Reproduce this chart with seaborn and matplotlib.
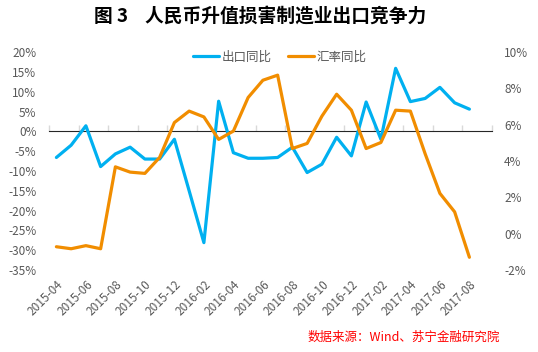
import numpy as np
import pandas as pd
import matplotlib
matplotlib.use("Agg")
import matplotlib.pyplot as plt
import seaborn as sns

#------------ data -----------
months = ["2015-04", "2015-05", "2015-06", "2015-07", "2015-08", "2015-09", "2015-10",
          "2015-11", "2015-12", "2016-01", "2016-02", "2016-03", "2016-04", "2016-05",
          "2016-06", "2016-07", "2016-08", "2016-09", "2016-10", "2016-11", "2016-12",
          "2017-01", "2017-02", "2017-03", "2017-04", "2017-05", "2017-06", "2017-07",
          "2017-08", "2017-09"]
export_yoy = [-6.6, -3.5, 1.4, -8.9, -5.7, -4.0, -7.0, -7.0, -2.0, -15.0, -28.1, 7.6,
              -5.4, -6.8, -6.8, -6.6, -4.0, -10.4, -8.3, -1.5, -6.2, 7.4, -2.0, 15.9,
              7.5, 8.3, 11.1, 7.2, 5.6]
fx_yoy = [-0.72, -0.83, -0.66, -0.83, 3.68, 3.39, 3.32, 4.2, 6.12, 6.75, 6.43, 5.19,
          5.65, 7.5, 8.45, 8.73, 4.69, 4.97, 6.47, 7.68, 6.8, 4.69, 5.02, 6.8, 6.75,
          4.4, 2.22, 1.2, -1.3]

left_ticks = [20, 15, 10, 5, 0, -5, -10, -15, -20, -25, -30, -35]
right_ticks = [10, 8, 6, 4, 2, 0, -2]

df = pd.DataFrame({"x": np.arange(len(export_yoy)),
                   "出口同比": export_yoy, "汇率同比": fx_yoy})

#------------ style -----------
sns.set_style("white")
plt.rcParams["font.family"] = ["Noto Sans CJK SC", "DejaVu Sans"]
gray = "#595959"
blue = "#00b0f0"
orange = "#f18d00"

fig = plt.figure(figsize=(5.38, 3.52), dpi=100)
ax = fig.add_axes([0.0911, 0.233, 0.8225, 0.619])
ax2 = ax.twinx()

sns.lineplot(data=df, x="x", y="出口同比", ax=ax, color=blue, linewidth=2.3, label="出口同比", legend=False)
sns.lineplot(data=df, x="x", y="汇率同比", ax=ax2, color=orange, linewidth=2.3, label="汇率同比", legend=False)

ax.set_xlim(-0.5, len(months) - 0.5)
ax.set_ylim(-35, 20)
ax2.set_ylim(-2, 10)

ax.set_yticks(left_ticks)
ax.set_yticklabels([f"{t}%" for t in left_ticks])
ax2.set_yticks(right_ticks)
ax2.set_yticklabels([f"{t}%" for t in right_ticks])

pos = np.arange(0, len(months), 2)
ax.set_xticks(pos)
ax.set_xticklabels([months[i] for i in pos], rotation=45, ha="right", rotation_mode="anchor")

for a in (ax, ax2):
    for s in a.spines.values():
        s.set_visible(False)
    a.set_xlabel("")
    a.set_ylabel("")
    a.tick_params(length=0, labelsize=8.5, colors=gray, pad=9)
ax.tick_params(axis="x", pad=6)

# zero line of the left axis with category tick marks
zero_frac = (0 - ax.get_ylim()[0]) / (ax.get_ylim()[1] - ax.get_ylim()[0])
sec = ax.secondary_xaxis(zero_frac)
sec.set_xticks(np.arange(-0.5, len(months), 2))
sec.set_xticklabels([])
sec.tick_params(length=4, color="#d9d9d9", width=1, direction="out")
sec.spines["bottom"].set_color("#d9d9d9")
sec.spines["bottom"].set_linewidth(1.2)

h1, l1 = ax.get_legend_handles_labels()
h2, l2 = ax2.get_legend_handles_labels()
fig.legend(h1 + h2, l1 + l2, loc="center", bbox_to_anchor=(0.52, 0.838), ncol=2,
           frameon=False, fontsize=9, handlelength=2.1, columnspacing=1.3,
           handletextpad=0.2, labelcolor=gray)

fig.text(0.483, 0.955, "图 3    人民币升值损害制造业出口竞争力", ha="center", va="center",
         fontsize=13.5, fontweight="bold", color="black")
fig.text(0.929, 0.043, "数据来源：Wind、苏宁金融研究院", ha="right", va="center",
         fontsize=9, color="#ff0000", style="italic")

fig.savefig("out.png", dpi=100)
